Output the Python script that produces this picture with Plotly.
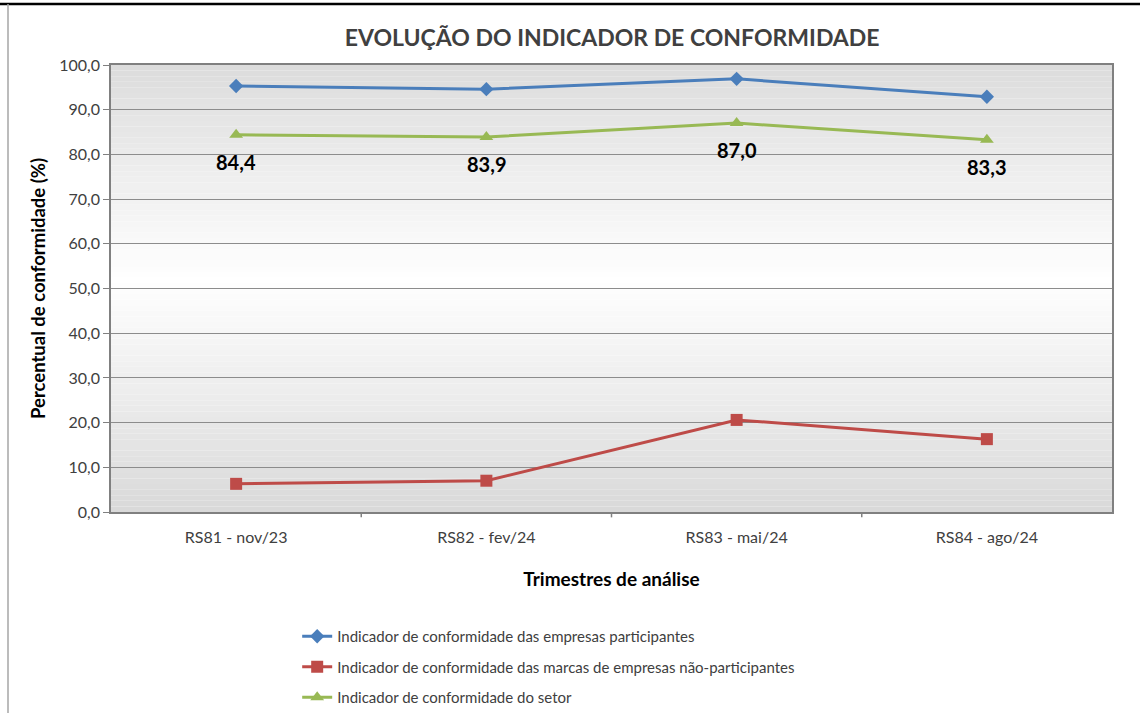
import plotly.graph_objects as go

categories = ["RS81 - nov/23", "RS82 - fev/24", "RS83 - mai/24", "RS84 - ago/24"]
participantes = [95.3, 94.6, 96.9, 92.9]
nao_participantes = [6.3, 7.0, 20.6, 16.3]
setor = [84.4, 83.9, 87.0, 83.3]
setor_labels = ["84,4", "83,9", "87,0", "83,3"]
y_ticks = [0, 10, 20, 30, 40, 50, 60, 70, 80, 90, 100]
y_tick_labels = ["0,0", "10,0", "20,0", "30,0", "40,0", "50,0", "60,0", "70,0", "80,0", "90,0", "100,0"]

FONT = "Lato"
x_idx = list(range(len(categories)))

fig = go.Figure()

fig.add_trace(go.Scatter(
    x=x_idx, y=participantes, mode="lines+markers",
    name="Indicador de conformidade das empresas participantes",
    legendgroup="a",
    line=dict(color="#4a7ebb", width=3),
    marker=dict(symbol="diamond", size=11, color="#4a7ebb"),
))
fig.add_trace(go.Scatter(
    x=x_idx, y=nao_participantes, mode="lines+markers",
    name="Indicador de conformidade das marcas de empresas não-participantes",
    legendgroup="b",
    line=dict(color="#be4b48", width=3),
    marker=dict(symbol="square", size=12, color="#be4b48"),
))
fig.add_trace(go.Scatter(
    x=x_idx, y=setor, mode="lines+markers",
    name="Indicador de conformidade do setor",
    legendgroup="c",
    line=dict(color="#98b954", width=3),
    marker=dict(symbol="triangle-up", size=12, color="#98b954"),
))

# data labels for the sector series
for xi, yv, lab in zip(x_idx, setor, setor_labels):
    fig.add_annotation(x=xi, y=yv, text=f"<b>{lab}</b>", showarrow=False,
                       yshift=-27, xanchor="center", yanchor="middle",
                       font=dict(family=FONT, size=20, color="#000000"))

# gradient background (gray -> white -> gray)
shapes = []
n = 80
for i in range(n):
    t = (i + 0.5) / n
    d = abs(t - 0.52) / 0.52
    d = min(d, 1.0)
    v = int(round(255 - (255 - 217) * d))
    col = f"rgb({v},{v},{v})"
    shapes.append(dict(type="rect", xref="paper", yref="paper",
                       x0=0, x1=1, y0=i / n, y1=(i + 1) / n,
                       fillcolor=col, line=dict(width=0), layer="below"))
# outer frame lines
shapes.append(dict(type="line", xref="paper", yref="paper",
                   x0=-0.12, x1=1.03, y0=1.1365, y1=1.1365,
                   line=dict(color="#000000", width=2.5)))
shapes.append(dict(type="line", xref="paper", yref="paper",
                   x0=-0.1029, x1=-0.1029, y0=1.1365, y1=-0.45,
                   line=dict(color="#a6a6a6", width=1.5)))
# category boundary tick marks on the x axis
for b in [0.5, 1.5, 2.5]:
    shapes.append(dict(type="line", xref="x", yref="paper", x0=b, x1=b, y0=0, y1=-0.012,
                       line=dict(color="#808080", width=1.5)))

fig.update_layout(
    width=1140, height=713,
    paper_bgcolor="white", plot_bgcolor="white",
    margin=dict(l=111, r=28, t=65, b=201, autoexpand=False),
    title=dict(text="<b>EVOLUÇÃO DO INDICADOR DE CONFORMIDADE</b>",
               x=0.537, xanchor="center", y=0.947, yanchor="middle",
               font=dict(family=FONT, size=23, color="#404040")),
    font=dict(family=FONT, color="#404040"),
    shapes=shapes,
    showlegend=True,
    legend=dict(x=0.186, xanchor="left", yref="container", y=1 - 620 / 713, yanchor="top",
                orientation="v", font=dict(family=FONT, size=15, color="#404040"),
                bgcolor="rgba(0,0,0,0)", tracegroupgap=8, itemwidth=30),
    xaxis=dict(
        tickmode="array", tickvals=x_idx, ticktext=categories,
        range=[-0.5, 3.5], showgrid=False, zeroline=False, automargin=False,
        showline=True, linecolor="#808080", linewidth=1.5, mirror=True,
        ticks="", ticklabelstandoff=10, tickfont=dict(family=FONT, size=16, color="#404040"),
        title=dict(text="<b>Trimestres de análise</b>", standoff=28,
                   font=dict(family=FONT, size=19, color="#000000")),
    ),
    yaxis=dict(
        tickmode="array", tickvals=y_ticks, ticktext=y_tick_labels,
        range=[0, 100], showgrid=True, gridcolor="#8c8c8c", gridwidth=1.2,
        zeroline=False, automargin=False,
        showline=True, linecolor="#808080", linewidth=1.5, mirror=True,
        ticks="outside", ticklen=6, tickcolor="#808080",
        tickfont=dict(family=FONT, size=16, color="#404040"),
        title=dict(text="<b>Percentual de conformidade (%)</b>", standoff=9,
                   font=dict(family=FONT, size=18.5, color="#000000")),
    ),
)

fig.write_html("out.html", config={"displayModeBar": False},
               post_script="document.body.style.margin='0';")
